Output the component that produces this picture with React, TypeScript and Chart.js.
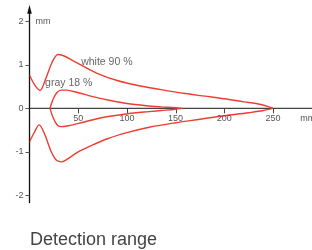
import React, { useEffect, useRef } from 'react';
import { Chart, registerables } from 'chart.js';

Chart.register(...registerables);

// Detection range curves (distance in mm, lateral offset in mm)
const whiteUpperX = [0, 5, 11, 17, 23, 29, 35, 45, 55, 70, 90, 110, 135, 160, 180, 200, 220, 235, 245, 250];
const whiteUpperY = [0.76, 0.55, 0.41, 0.7, 1.05, 1.24, 1.21, 1.09, 0.97, 0.8, 0.64, 0.53, 0.43, 0.34, 0.28, 0.22, 0.15, 0.1, 0.04, 0];
const whiteLowerX = [0, 5, 10, 16, 22, 28, 33, 40, 50, 65, 80, 100, 124, 150, 175, 200, 225, 240, 250];
const whiteLowerY = [-0.77, -0.55, -0.38, -0.62, -0.98, -1.2, -1.23, -1.15, -1.0, -0.84, -0.7, -0.56, -0.43, -0.33, -0.25, -0.17, -0.1, -0.05, 0];
const grayUpperX = [21, 24, 28, 33, 38, 50, 65, 83, 100, 120, 135, 150, 157];
const grayUpperY = [0, 0.2, 0.36, 0.42, 0.42, 0.36, 0.27, 0.18, 0.11, 0.06, 0.035, 0.015, 0];
const grayLowerX = [21, 24, 28, 32, 40, 55, 75, 99, 120, 135, 150, 157];
const grayLowerY = [0, -0.2, -0.37, -0.42, -0.4, -0.32, -0.21, -0.13, -0.08, -0.05, -0.02, 0];

const xTicks = [50, 100, 150, 200, 250];
const yTicks = [-2, -1, 0, 1, 2];
const seriesLabels = ['white 90 %', 'gray 18 %'];
const seriesLabelPos = [
  [53, 1.07],
  [16, 0.58],
];
const unitLabel = 'mm';
const title = 'Detection range';

const RED = '#ee3d33';
const FONT = '"Liberation Sans", Arial, Helvetica, sans-serif';

const toPoints = (xs: number[], ys: number[]) => xs.map((x, i) => ({ x, y: ys[i] }));

const axesPlugin = {
  id: 'customAxes',
  beforeDatasetsDraw(chart: any) {
    const { ctx, scales, chartArea } = chart;
    const xs = scales.x;
    const ys = scales.y;
    const x0 = xs.getPixelForValue(0);
    const y0 = ys.getPixelForValue(0);
    ctx.save();
    // x axis
    ctx.strokeStyle = '#444';
    ctx.lineWidth = 1.2;
    ctx.beginPath();
    ctx.moveTo(x0, y0);
    ctx.lineTo(chartArea.right, y0);
    ctx.stroke();
    // x ticks
    ctx.lineWidth = 1;
    xTicks.forEach((t) => {
      const px = Math.round(xs.getPixelForValue(t)) + 0.5;
      ctx.beginPath();
      ctx.moveTo(px, y0);
      ctx.lineTo(px, y0 + 5);
      ctx.stroke();
    });
    // y axis
    ctx.strokeStyle = '#111';
    ctx.lineWidth = 1.3;
    const yBottom = ys.getPixelForValue(-2.18);
    const yTop = ys.getPixelForValue(2.38);
    ctx.beginPath();
    ctx.moveTo(x0, yBottom);
    ctx.lineTo(x0, yTop + 6);
    ctx.stroke();
    ctx.fillStyle = '#111';
    ctx.beginPath();
    ctx.moveTo(x0, yTop);
    ctx.lineTo(x0 - 2.3, yTop + 9);
    ctx.lineTo(x0 + 2.3, yTop + 9);
    ctx.closePath();
    ctx.fill();
    // y ticks
    ctx.strokeStyle = '#555';
    ctx.lineWidth = 1;
    yTicks.forEach((t) => {
      const py = Math.round(ys.getPixelForValue(t)) + 0.5;
      ctx.beginPath();
      ctx.moveTo(x0 - 4, py);
      ctx.lineTo(x0, py);
      ctx.stroke();
    });
    ctx.restore();
  },
  afterDatasetsDraw(chart: any) {
    const { ctx, scales } = chart;
    const xs = scales.x;
    const ys = scales.y;
    const x0 = xs.getPixelForValue(0);
    const y0 = ys.getPixelForValue(0);
    ctx.save();
    ctx.fillStyle = '#555';
    ctx.font = `9px ${FONT}`;
    ctx.textAlign = 'center';
    ctx.textBaseline = 'top';
    xTicks.forEach((t) => {
      ctx.fillText(String(t), xs.getPixelForValue(t), y0 + 6);
    });
    ctx.textAlign = 'right';
    ctx.textBaseline = 'middle';
    yTicks.forEach((t) => {
      ctx.fillText(String(t), x0 - 6, ys.getPixelForValue(t));
    });
    // unit labels
    ctx.textAlign = 'left';
    ctx.fillText(unitLabel, x0 + 6, ys.getPixelForValue(2));
    ctx.textBaseline = 'top';
    ctx.fillText(unitLabel, xs.getPixelForValue(278), y0 + 6);
    // series labels
    ctx.fillStyle = '#666';
    ctx.font = `10.5px ${FONT}`;
    ctx.textBaseline = 'middle';
    seriesLabels.forEach((lab, i) => {
      const [lx, ly] = seriesLabelPos[i];
      ctx.fillText(lab, xs.getPixelForValue(lx), ys.getPixelForValue(ly));
    });
    ctx.restore();
  },
};

export default function App() {
  const canvasRef = useRef<HTMLCanvasElement | null>(null);

  useEffect(() => {
    if (!canvasRef.current) return;
    const mk = (xs: number[], ys: number[]) => ({
      data: toPoints(xs, ys),
      borderColor: RED,
      borderWidth: 1.4,
      pointRadius: 0,
      fill: false,
      cubicInterpolationMode: 'monotone' as const,
    });
    const chart = new Chart(canvasRef.current, {
      type: 'line',
      data: {
        datasets: [
          mk(whiteUpperX, whiteUpperY),
          mk(whiteLowerX, whiteLowerY),
          mk(grayUpperX, grayUpperY),
          mk(grayLowerX, grayLowerY),
        ],
      },
      options: {
        animation: false,
        responsive: false,
        maintainAspectRatio: false,
        layout: { padding: { left: 29.5, right: 0, top: 4, bottom: 46 } },
        plugins: {
          legend: { display: false },
          tooltip: { enabled: false },
          title: { display: false },
        },
        scales: {
          x: { type: 'linear', min: 0, max: 290, display: false },
          y: { type: 'linear', min: -2.2, max: 2.4, display: false },
        },
      },
      plugins: [axesPlugin],
    });
    return () => chart.destroy();
  }, []);

  return (
    <div style={{ position: 'fixed', left: 0, top: 0, width: 312, height: 250, background: '#fff' }}>
      <canvas ref={canvasRef} width={312} height={250} style={{ position: 'absolute', left: 0, top: 0 }} />
      <div
        style={{
          position: 'absolute',
          left: 30,
          top: 230,
          fontFamily: FONT,
          fontSize: 18,
          lineHeight: '18px',
          color: '#444',
          whiteSpace: 'nowrap',
        }}
      >
        {title}
      </div>
    </div>
  );
}
